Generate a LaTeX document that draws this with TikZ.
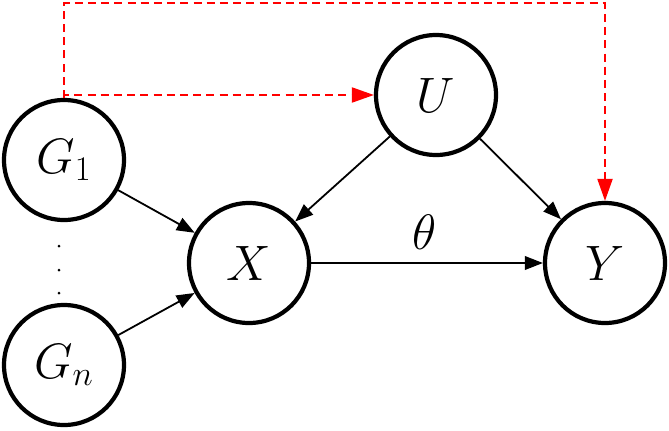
\documentclass[tikz,border=0pt]{standalone}
\usetikzlibrary{arrows.meta}
\begin{document}
\begin{tikzpicture}[x=0.5pt,y=0.5pt,
  var/.style={circle, draw, line width=2.1pt, minimum size=120pt*0.5, inner sep=0pt, fill=white},
  edge/.style={line width=0.9pt, -{Triangle[length=9pt,width=6.8pt]}},
  confound/.style={red, line width=1pt, dash pattern=on 4pt off 2.6pt, -{Triangle[length=11pt,width=7.5pt]}}]
\useasboundingbox (0,0) rectangle (669,430);
\node[var, font=\fontsize{25}{30}\selectfont] (G1) at (64,270) {$G_1$};
\node[var, font=\fontsize{25}{30}\selectfont] (Gn) at (64,65) {$G_n$};
\node[var, font=\fontsize{27}{32}\selectfont] (X) at (249,167) {$X$};
\node[var, font=\fontsize{30}{36}\selectfont] (U) at (436,335) {$U$};
\node[var, font=\fontsize{30}{36}\selectfont] (Y) at (605,167) {$Y$};
\coordinate (top) at (64,427);
\fill (59,184) circle (1.5);
\fill (59,160) circle (1.5);
\fill (59,137) circle (1.5);
\draw[edge] (G1) -- (X);
\draw[edge] (Gn) -- (X);
\draw[edge] (U) -- (X);
\draw[edge] (U) -- (Y);
\draw[edge] (X) -- node[pos=0.49, above, inner sep=6.5pt, font=\fontsize{26}{31}\selectfont] {$\theta$} (Y);
\draw[confound] (G1.north) |- (U.west);
\draw[confound] (G1.north) -- (top) -| (Y.north);
\end{tikzpicture}
\end{document}
